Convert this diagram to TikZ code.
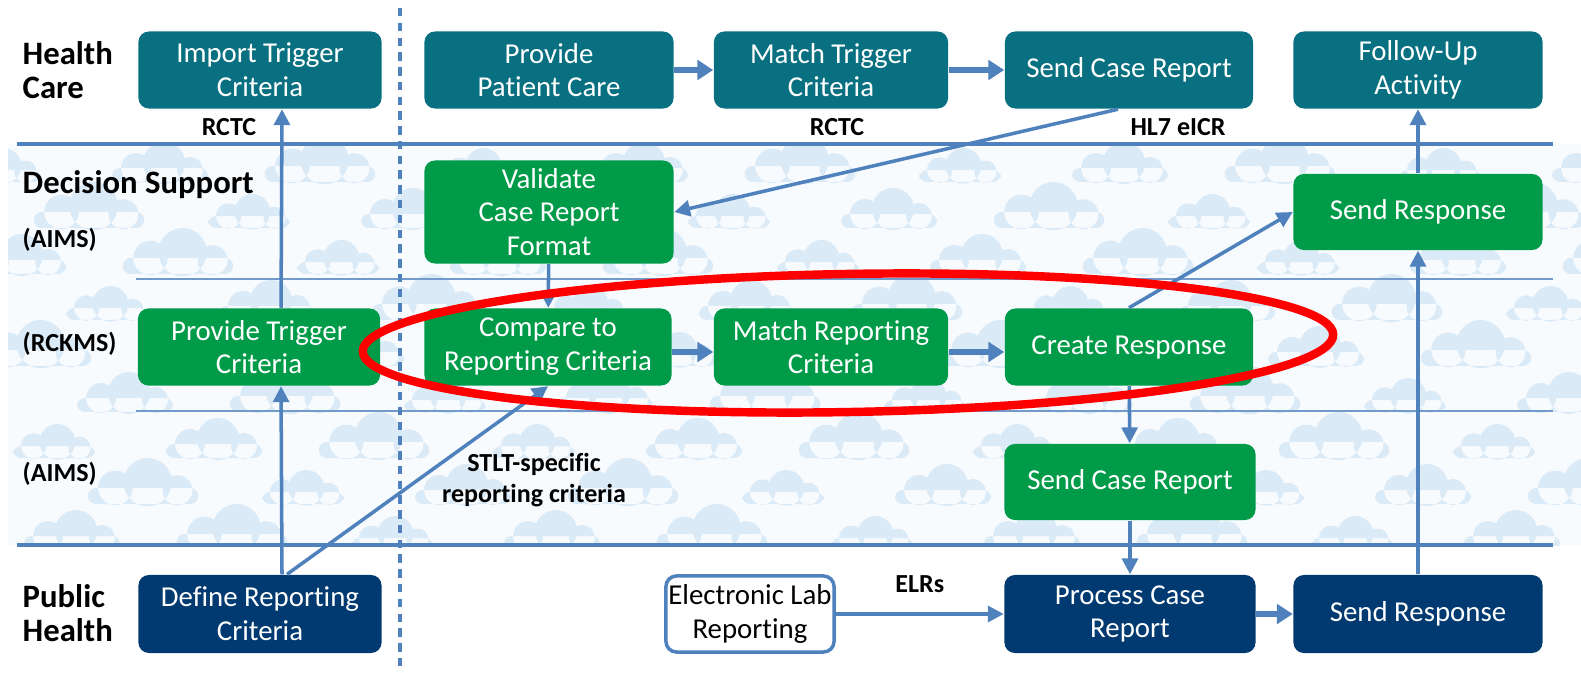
\documentclass[tikz,border=0pt]{standalone}
\usepackage{fontspec}
\setmainfont{Carlito}[Ligatures=NoCommon]
\usetikzlibrary{positioning}
\usetikzlibrary{arrows.meta}
\definecolor{hcteal}{RGB}{8,112,128}
\definecolor{dsgreen}{RGB}{0,155,72}
\definecolor{phnavy}{RGB}{0,58,112}
\definecolor{flowblue}{RGB}{79,129,189}
\definecolor{cloudblue}{RGB}{218,234,247}
\definecolor{bandbg}{RGB}{248,251,254}
\tikzset{x=0.01cm, y=-0.01cm,
procbox/.style={ % Sets the properties for each process box
rounded corners=3pt,
align=center,
text=white,
inner sep=0pt,
minimum height=0.77cm,
font=\fontsize{8.2}{9.6}\selectfont},
hcbox/.style={procbox, fill=hcteal},
dsbox/.style={procbox, fill=dsgreen},
phbox/.style={procbox, fill=phnavy},
elrbox/.style={procbox, fill=white, draw=flowblue, line width=1pt, text=black},
rowlabel/.style={anchor=west, align=left, inner sep=0pt,
font=\bfseries\fontsize{9.3}{9.8}\selectfont},
sublabel/.style={anchor=west, inner sep=0pt,
font=\bfseries\fontsize{7.4}{8.8}\selectfont},
flowlabel/.style={align=center, inner sep=0pt,
font=\bfseries\fontsize{7.4}{8.6}\selectfont},
flowarrow/.style={ % Sets the properties for each thin connector
draw=flowblue,
line width=1pt,
-{Triangle[width=4.5pt,length=4.5pt]}},
bigarrow/.style={ % Thick connector between neighbouring boxes
draw=flowblue,
line width=1.8pt,
-{Triangle[width=5.5pt,length=4.5pt]}},
lane/.style={draw=flowblue, line width=0.9pt},
sublane/.style={draw=flowblue!80, line width=0.5pt},
pics/puff/.style={code={ % one background cloud, flat at the bottom
\fill[cloudblue] (-48,0) [rounded corners=0.08cm] -- (-48,-14) -- (48,-14) -- (48,0) -- cycle
  (-24,-14) circle [radius=0.15cm]
  (4,-19) circle [radius=0.21cm]
  (30,-12) circle [radius=0.13cm];
}}}

\begin{document}
\begin{tikzpicture}
	\useasboundingbox (0,0) rectangle (1581,673);
	% cloud band
	\fill[bandbg] (8,144) rectangle (1581,545);
	\begin{scope}
	\clip (8,144) rectangle (1581,545);
	\foreach \r in {0,...,8} {
		\foreach \i in {0,...,10} {
			\pgfmathsetmacro\cx{mod(\r*89,160)+160*\i}
			\pgfmathsetmacro\cs{0.85+0.15*mod(\i+2*\r,3)}
			\pic[scale=\cs] at (\cx,182+46*\r) {puff};
		}
	}
	\end{scope}
	% lanes
	\draw[lane] (17,144) -- (1553,144);
	\draw[lane] (17,545) -- (1553,545);
	\draw[sublane] (136,279) -- (1553,279);
	\draw[sublane] (136,411) -- (1553,411);
	\draw[flowblue, line width=1pt, dash pattern=on 2.4pt off 1.8pt] (400,8) -- (400,673);
	% row labels
	\node[rowlabel] (hcLabel) at (22,70) {Health\\Care};
	\node[rowlabel] (dsLabel) at (22,185) {Decision Support};
	\node[sublabel] (aimsTop) at (22,240) {(AIMS)};
	\node[sublabel] (rckms) at (22,344) {(RCKMS)};
	\node[sublabel] (aimsLow) at (22,474) {(AIMS)};
	\node[rowlabel] (phLabel) at (22,613) {Public\\Health};
	% health care
	\node[hcbox, minimum width=2.43cm] (impTrig) at (260,70) {Import Trigger\\Criteria};
	\node[hcbox, minimum width=2.49cm] (provCare) at (549,70) {Provide\\Patient Care};
	\node[hcbox, minimum width=2.34cm] (matchTrig) at (831,70) {Match Trigger\\Criteria};
	\node[hcbox, minimum width=2.48cm] (sendCaseHC) at (1129,70) {Send Case Report};
	\node[hcbox, minimum width=2.49cm] (followUp) at (1418,70) {Follow-Up\\Activity};
	% decision support
	\node[dsbox, minimum width=2.49cm, minimum height=1.03cm] (validate) at (549,212) {Validate\\Case Report\\Format};
	\node[dsbox, minimum width=2.49cm, minimum height=0.76cm] (sendRespDS) at (1418,212) {Send Response};
	\node[dsbox, minimum width=2.42cm] (provTrig) at (259,347) {Provide Trigger\\Criteria};
	\node[dsbox, minimum width=2.47cm] (compare) at (548,347) {Compare to\\Reporting Criteria};
	\node[dsbox, minimum width=2.34cm] (matchRep) at (831,347) {Match Reporting\\Criteria};
	\node[dsbox, minimum width=2.48cm] (createResp) at (1129,347) {Create Response};
	\node[dsbox, minimum width=2.51cm, minimum height=0.76cm] (sendCaseAIMS) at (1130,482) {Send Case Report};
	% public health
	\node[phbox, minimum width=2.43cm, minimum height=0.78cm] (defRep) at (260,614) {Define Reporting\\Criteria};
	\node[elrbox, minimum width=1.68cm, minimum height=0.76cm] (elr) at (750,614) {Electronic Lab\\Reporting};
	\node[phbox, minimum width=2.51cm, minimum height=0.78cm] (procCase) at (1130,614) {Process Case\\Report};
	\node[phbox, minimum width=2.49cm, minimum height=0.78cm] (sendRespPH) at (1418,614) {Send Response};
	% flow labels
	\node[flowlabel] (rctcLeft) at (229,127) {RCTC};
	\node[flowlabel] (rctcMid) at (837,127) {RCTC};
	\node[flowlabel] (hlSeven) at (1178,127) {HL7 eICR};
	\node[flowlabel] (stlt) at (534,480) {STLT-specific\\reporting criteria};
	% connectors
	\draw[flowarrow] ([xshift=0.22cm]defRep.north) -- ([xshift=0.22cm]provTrig.south);
	\draw[flowarrow] ([xshift=0.22cm]provTrig.north) -- ([xshift=0.22cm]impTrig.south);
	\draw[flowarrow] ([xshift=0.27cm]defRep.north) -- (compare.south);
	\draw[bigarrow] (provCare) -- (matchTrig);
	\draw[bigarrow] (matchTrig) -- (sendCaseHC);
	\draw[flowarrow] ([xshift=-0.11cm]sendCaseHC.south) -- (validate.east);
	\draw[flowarrow] (validate) -- (compare);
	\draw[bigarrow] ([yshift=-0.05cm]compare.east) -- ([yshift=-0.05cm]matchRep.west);
	\draw[bigarrow] ([yshift=-0.05cm]matchRep.east) -- ([yshift=-0.05cm]createResp.west);
	\draw[flowarrow] (createResp.north) -- (sendRespDS.west);
	\draw[flowarrow] (createResp) -- (sendCaseAIMS);
	\draw[flowarrow] (sendCaseAIMS) -- (procCase);
	\draw[flowarrow] (elr) -- node[flowlabel, above=0.2cm] (elrs) {ELRs} (procCase);
	\draw[bigarrow] (procCase) -- (sendRespPH);
	\draw[flowarrow] (sendRespPH) -- (sendRespDS);
	\draw[flowarrow] (sendRespDS) -- (followUp);
	% highlight
	\draw[red, line width=2.4pt, rotate around={1:(848,343)}] (848,343) ellipse [x radius=4.85cm, y radius=0.69cm];
\end{tikzpicture}
\end{document}
